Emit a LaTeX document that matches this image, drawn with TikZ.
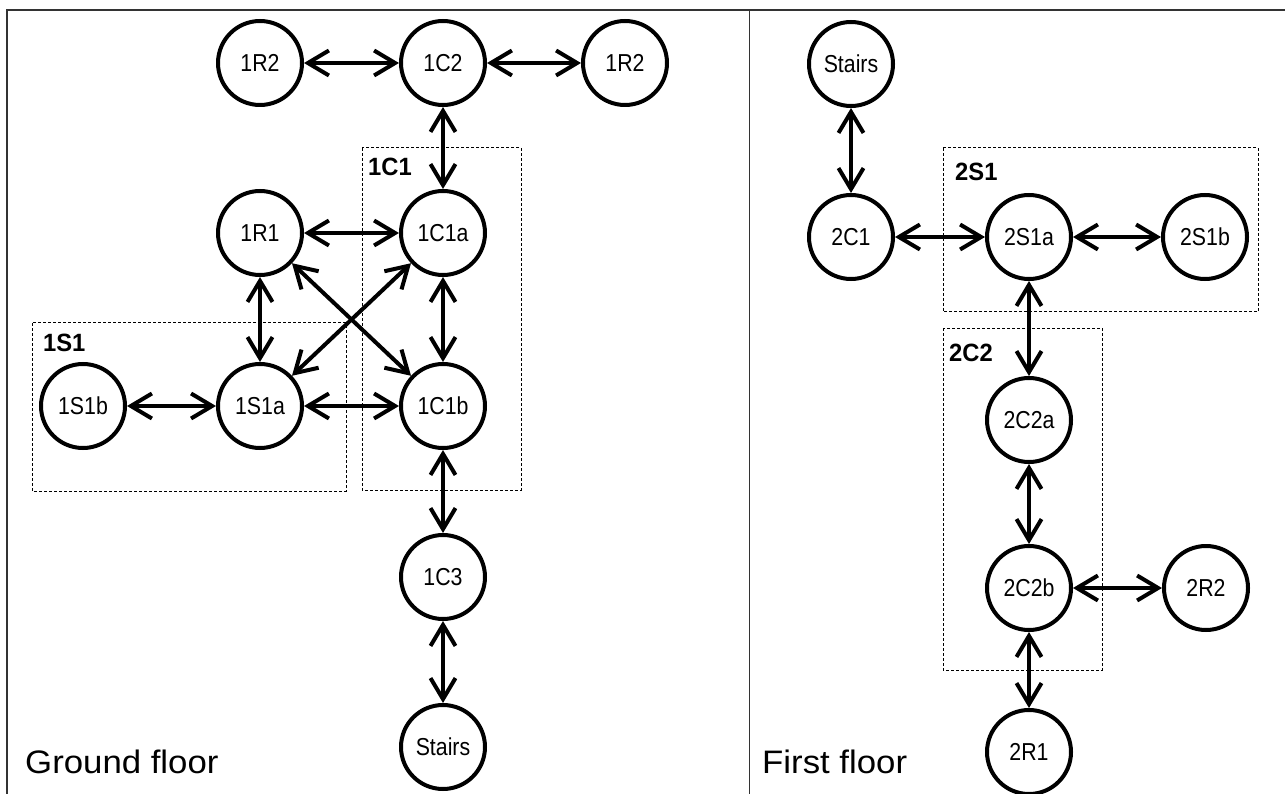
\documentclass[tikz,border=0pt]{standalone}
\usepackage{fontspec}
\setmainfont{Liberation Sans}
\newfontfamily\roomfont[FakeStretch=0.87]{Liberation Sans}
\newfontfamily\grpfont[FakeStretch=0.95]{Liberation Sans}
\newfontfamily\floorfont[FakeStretch=1.07]{Liberation Sans}
\usetikzlibrary{arrows.meta}
\begin{document}
\begin{tikzpicture}[x=1pt,y=-1pt,
  room/.style={circle,draw,line width=4pt,minimum size=84pt,inner sep=0pt,font=\roomfont\fontsize{24.5}{28}\selectfont},
  link/.style={line width=4pt,{Straight Barb[length=21pt,width=25pt]}-{Straight Barb[length=21pt,width=25pt]}},
  grp/.style={draw,line width=1pt,dash pattern=on 3pt off 2pt},
  grplabel/.style={anchor=west,inner sep=0pt,font=\grpfont\fontsize{25}{29}\selectfont\bfseries},
  floorlabel/.style={anchor=base west,inner sep=0pt,font=\floorfont\fontsize{32.5}{38}\selectfont},
  frame/.style={line width=1.5pt,draw=black!80}]
\useasboundingbox (0,0) rectangle (1285,794);
% frame
\coordinate (ftl) at (7,10);
\coordinate (ftr) at (1285,10);
\coordinate (fbl) at (7,794);
\coordinate (dtop) at (749,10);
\coordinate (dbot) at (749,794);
\draw[frame] (fbl) -- (ftl) -- (ftr);
\draw[frame,line width=1pt] (dtop) -- (dbot);
% groups
\draw[grp] (362,148) rectangle (521,490);
\node[grplabel] (l1c1) at (368,167) {1C1};
\draw[grp] (32,323) rectangle (346,491);
\node[grplabel] (l1s1) at (43,343) {1S1};
\draw[grp] (943,148) rectangle (1258,312);
\node[grplabel] (l2s1) at (955,172) {2S1};
\draw[grp] (943,328) rectangle (1102,670);
\node[grplabel] (l2c2) at (949,353) {2C2};
% ground floor
\node[room] (r2L) at (260,63) {1R2};
\node[room] (c2) at (443,63) {1C2};
\node[room] (r2R) at (625,63) {1R2};
\node[room] (r1) at (260,233) {1R1};
\node[room] (c1a) at (443,233) {1C1a};
\node[room] (s1b) at (83,406) {1S1b};
\node[room] (s1a) at (260,406) {1S1a};
\node[room] (c1b) at (443,406) {1C1b};
\node[room] (c3) at (443,577) {1C3};
\node[room] (stL) at (443,747) {Stairs};
% first floor
\node[room] (stR) at (851,64) {Stairs};
\node[room] (c21) at (851,237) {2C1};
\node[room] (s2a) at (1029,237) {2S1a};
\node[room] (s2b) at (1205,237) {2S1b};
\node[room] (c2a) at (1029,420) {2C2a};
\node[room] (c2b) at (1029,588) {2C2b};
\node[room] (r22) at (1206,588) {2R2};
\node[room] (r21) at (1029,752) {2R1};
% links ground floor
\draw[link] (r2L) -- (c2);
\draw[link] (c2) -- (r2R);
\draw[link] (c2) -- (c1a);
\draw[link] (r1) -- (c1a);
\draw[link] (r1) -- (s1a);
\draw[link] (r1) -- (c1b);
\draw[link] (c1a) -- (s1a);
\draw[link] (c1a) -- (c1b);
\draw[link] (s1b) -- (s1a);
\draw[link] (s1a) -- (c1b);
\draw[link] (c1b) -- (c3);
\draw[link] (c3) -- (stL);
% links first floor
\draw[link] (stR) -- (c21);
\draw[link] (c21) -- (s2a);
\draw[link] (s2a) -- (s2b);
\draw[link] (s2a) -- (c2a);
\draw[link] (c2a) -- (c2b);
\draw[link] (c2b) -- (r22);
\draw[link] (c2b) -- (r21);
% floor labels
\node[floorlabel] (gf) at (25,773) {Ground floor};
\node[floorlabel] (ff) at (762,773) {First floor};
\end{tikzpicture}
\end{document}
